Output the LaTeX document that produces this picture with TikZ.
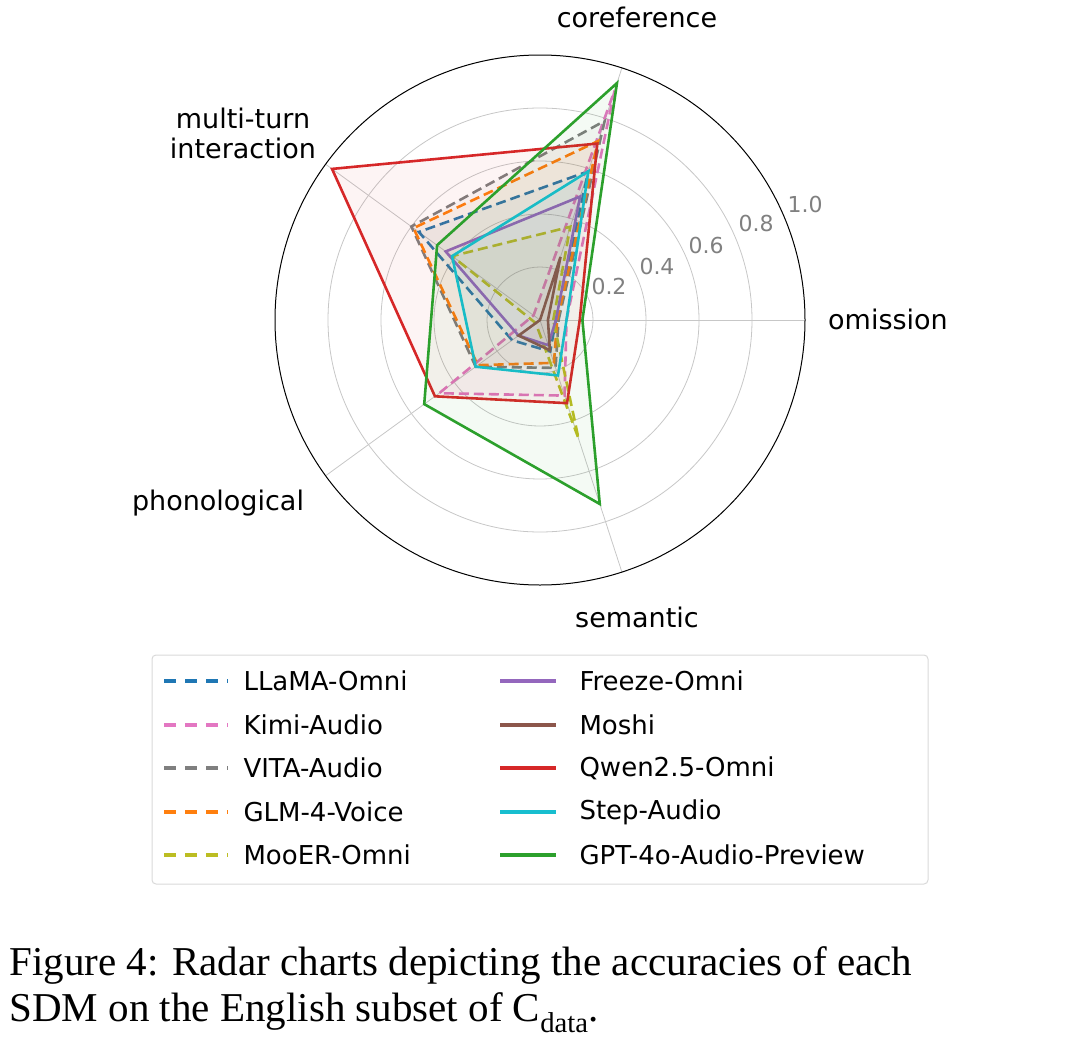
\documentclass[tikz,border=0pt]{standalone}
\usepackage{fontspec}
\setmainfont{Liberation Serif}
\newfontfamily\dv{DejaVu Sans}
\usetikzlibrary{calc}
\definecolor{cblue}{HTML}{1F77B4}
\definecolor{cpink}{HTML}{E377C2}
\definecolor{cgray}{HTML}{7F7F7F}
\definecolor{corange}{HTML}{FF7F0E}
\definecolor{colive}{HTML}{BCBD22}
\definecolor{cpurple}{HTML}{9467BD}
\definecolor{cbrown}{HTML}{8C564B}
\definecolor{cred}{HTML}{D62728}
\definecolor{ccyan}{HTML}{17BECF}
\definecolor{cgreen}{HTML}{2CA02C}
\newcommand\radarpoly[6]{%
  \draw[#1,fill=.,fill opacity=0.05] ($(C)+(0:{265*#2})$) -- ($(C)+(72:{265*#3})$) -- ($(C)+(144:{265*#4})$) -- ($(C)+(216:{265*#5})$) -- ($(C)+(288:{265*#6})$) -- cycle;}
\begin{document}
\begin{tikzpicture}[x=1pt,y=1pt,
  dsh/.style={line width=2.6pt,dash pattern=on 10pt off 5pt},
  sld/.style={line width=2.6pt},
  ax/.style={font=\dv\fontsize{27}{30}\selectfont},
  tk/.style={font=\dv\fontsize{22}{24}\selectfont,text=black!50},
  lg/.style={font=\dv\fontsize{26}{28}\selectfont,anchor=west}]
\useasboundingbox (0,0) rectangle (1080,-1052);
\coordinate (C) at (540,-320);
\foreach \r in {0.2,0.4,0.6,0.8} \draw[black!22,line width=0.8pt] (C) circle ({265*\r});
\foreach \a in {0,72,144,216,288} \draw[black!22,line width=0.8pt] (C) -- ++(\a:265);
\draw[black,line width=1pt] (C) circle (265);
\node[tk] (t2) at (609,-286) {0.2};
\node[tk] (t4) at (657,-266) {0.4};
\node[tk] (t6) at (706,-245) {0.6};
\node[tk] (t8) at (756,-223) {0.8};
\node[tk] (t10) at (805,-204) {1.0};
\node[ax] (lo) at (888,-319) {omission};
\node[ax] (lc) at (637,-17) {coreference};
\node[ax,align=center] (lm) at (243,-133) {multi-turn\\interaction};
\node[ax] (lp) at (218,-503) {phonological};
\node[ax] (ls) at (637,-617) {semantic};
\radarpoly{cblue,dsh}{0.06}{0.59}{0.565}{0.13}{0.125}
\radarpoly{cpink,dsh}{0.10}{0.91}{0.03}{0.47}{0.30}
\radarpoly{cgray,dsh}{0.07}{0.79}{0.60}{0.30}{0.19}
\radarpoly{corange,dsh}{0.065}{0.71}{0.59}{0.29}{0.17}
\radarpoly{colive,dsh}{0.05}{0.37}{0.41}{0.02}{0.47}
\radarpoly{cpurple,sld}{0.06}{0.49}{0.44}{0.10}{0.10}
\radarpoly{cbrown,sld}{0.03}{0.25}{0.0}{0.10}{0.12}
\radarpoly{cred,sld}{0.15}{0.70}{0.97}{0.49}{0.33}
\radarpoly{ccyan,sld}{0.10}{0.59}{0.41}{0.30}{0.22}
\radarpoly{cgreen,sld}{0.16}{0.94}{0.48}{0.54}{0.73}
\draw[black!15,line width=1pt,rounded corners=4pt] (152,-655) rectangle (928,-884);
\foreach \c/\t/\y [count=\i] in {cblue/LLaMA-Omni/681,cpink/Kimi-Audio/725,cgray/VITA-Audio/768,corange/GLM-4-Voice/812,colive/MooER-Omni/855}{
  \draw[\c,line width=4pt,dash pattern=on 12pt off 9pt] (164,-\y) -- (228,-\y);
  \node[lg] (la\i) at (240,-\y) {\t};}
\foreach \c/\t/\y [count=\i] in {cpurple/Freeze-Omni/681,cbrown/Moshi/725,cred/Qwen2.5-Omni/768,ccyan/Step-Audio/812,cgreen/GPT-4o-Audio-Preview/855}{
  \draw[\c,line width=4pt] (500,-\y) -- (556,-\y);
  \node[lg] (lb\i) at (576,-\y) {\t};}
\node[anchor=west,font=\fontsize{41}{46}\selectfont,align=left] (cap) at (6,-990)
  {Figure 4: Radar charts depicting the accuracies of each\\SDM on the English subset of C\textsubscript{data}.};
\end{tikzpicture}
\end{document}
